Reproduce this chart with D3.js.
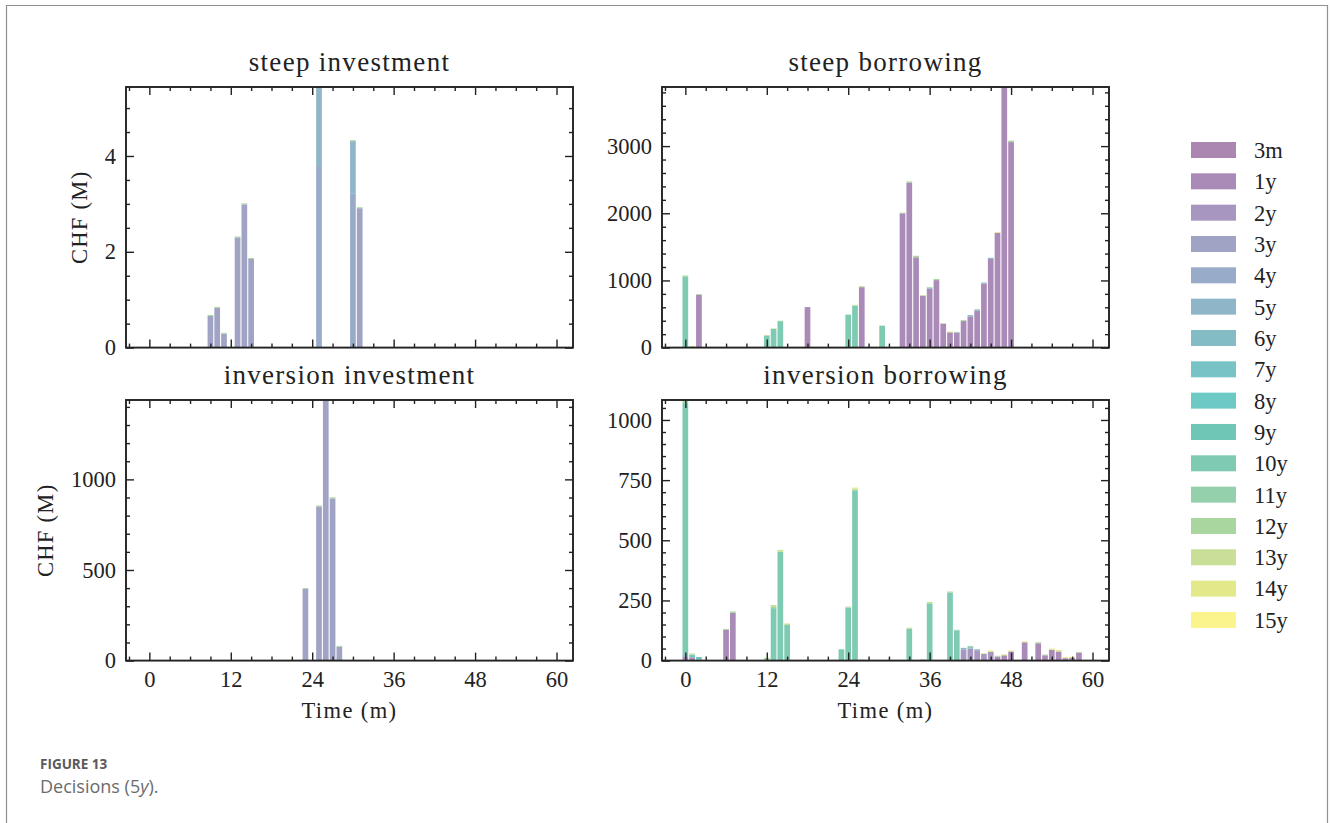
<!DOCTYPE html>
<html>
<head>
<meta charset="utf-8">
<script src="https://cdn.jsdelivr.net/npm/d3@7"></script>
<style>
  html, body { margin: 0; padding: 0; background: #fff; }
  svg { display: block; }
</style>
</head>
<body>
<svg id="chart" width="1330" height="823"></svg>
<script>
// ---------------- data ----------------
const tenors = ["3m","1y","2y","3y","4y","5y","6y","7y","8y","9y","10y","11y","12y","13y","14y","15y"];
const tenorColors = ["#ab86b0","#aa8bb8","#a796c0","#a0a3c4","#98abc8","#8fb6c8","#84bcc6","#78c3c6",
                     "#6dc9c4","#6fc6b6","#7ecab2","#94d0ac","#a9d69e","#c9df98","#e2e98b","#fbf38b"];

const xTickLabels = [0, 12, 24, 36, 48, 60];

// [month, tenor, value]
const steepInvestment = [
  [9,"3y",0.66],[9,"12y",0.02],
  [10,"3y",0.83],[10,"12y",0.02],
  [11,"3y",0.29],[11,"12y",0.02],
  [13,"3y",2.30],[13,"12y",0.02],
  [14,"3y",2.99],[14,"12y",0.02],
  [15,"3y",1.85],[15,"12y",0.02],
  [25,"4y",3.81],[25,"5y",1.63],
  [30,"4y",3.21],[30,"5y",1.10],[30,"12y",0.02],
  [31,"3y",2.91],[31,"12y",0.02]
];
const steepInvestmentTicks = [0, 2, 4];

const steepBorrowing = [
  [0,"10y",1062],[0,"13y",13],
  [1,"12y",20],
  [2,"1y",785],[2,"12y",12],
  [12,"10y",180],[12,"13y",8],
  [13,"10y",278],[13,"13y",8],
  [14,"10y",393],[14,"12y",7],
  [18,"1y",603],
  [24,"10y",490],[24,"14y",4],
  [25,"10y",625],[25,"13y",12],
  [26,"1y",900],[26,"13y",15],
  [29,"10y",322],[29,"12y",7],
  [32,"1y",2000],[32,"13y",10],
  [33,"1y",2452],[33,"12y",22],
  [34,"1y",1345],[34,"12y",22],
  [35,"1y",775],[35,"14y",8],
  [36,"1y",878],[36,"6y",15],[36,"12y",10],
  [37,"1y",1005],[37,"12y",17],
  [38,"1y",358],[38,"14y",6],
  [39,"1y",228],[39,"14y",11],
  [40,"1y",222],[40,"11y",12],
  [41,"1y",395],[41,"12y",14],
  [42,"1y",465],[42,"6y",19],
  [43,"1y",548],[43,"6y",21],
  [44,"1y",955],[44,"6y",13],
  [45,"1y",1320],[45,"6y",17],
  [46,"1y",1710],[46,"14y",11],
  [47,"1y",3880],
  [48,"1y",3060],[48,"12y",22]
];
const steepBorrowingTicks = [0, 1000, 2000, 3000];

const inversionInvestment = [
  [22,"3y",3],
  [23,"3y",395],[23,"12y",5],
  [25,"3y",850],[25,"12y",6],
  [26,"3y",1438],
  [27,"3y",895],[27,"12y",6],
  [28,"3y",76],[28,"12y",5]
];
const inversionInvestmentTicks = [0, 500, 1000];

const inversionBorrowing = [
  [0,"1y",15],[0,"6y",12],[0,"10y",1043],[0,"12y",13],
  [1,"1y",14],[1,"8y",10],[1,"13y",6],
  [2,"7y",5],[2,"9y",10],
  [6,"1y",128],[6,"12y",4],
  [7,"1y",198],[7,"12y",6],
  [12,"12y",12],
  [13,"10y",218],[13,"12y",8],[13,"13y",5],
  [14,"10y",452],[14,"13y",8],
  [15,"10y",148],[15,"13y",6],
  [16,"14y",3],
  [23,"10y",47],
  [24,"10y",220],[24,"12y",4],
  [25,"10y",708],[25,"13y",6],[25,"14y",5],
  [26,"12y",4],[27,"13y",3],[30,"14y",3],[31,"14y",3],[32,"14y",3],
  [33,"10y",132],[33,"13y",5],
  [35,"12y",5],
  [36,"10y",238],[36,"13y",6],
  [39,"10y",282],[39,"12y",5],
  [40,"10y",124],[40,"11y",4],
  [41,"2y",45],[41,"5y",8],
  [42,"2y",50],[42,"6y",6],[42,"12y",5],
  [43,"2y",40],[43,"5y",7],
  [44,"2y",28],[44,"14y",3],
  [45,"2y",36],[45,"14y",6],
  [46,"1y",16],[46,"12y",4],
  [47,"1y",22],[47,"14y",4],
  [48,"1y",38],[48,"14y",4],
  [50,"1y",76],[50,"14y",4],
  [52,"1y",72],[52,"12y",4],
  [53,"1y",22],[53,"12y",3],
  [54,"1y",45],[54,"14y",5],
  [55,"1y",38],[55,"14y",6],
  [56,"1y",10],[56,"14y",5],
  [57,"1y",12],[57,"14y",4],
  [58,"1y",33],[58,"12y",3]
];
const inversionBorrowingTicks = [0, 250, 500, 750, 1000];

const panelTitles = ["steep investment", "steep borrowing", "inversion investment", "inversion borrowing"];
const yLabel = "CHF (M)";
const xLabel = "Time (m)";
const captionHead = "FIGURE 13";

// ---------------- drawing ----------------
const svg = d3.select("#chart");
const SERIF = "'Liberation Serif', 'Times New Roman', serif";
const SANS = "'Open Sans', Lato, sans-serif";
const INK = "#222";

const color = d3.scaleOrdinal().domain(tenors).range(tenorColors);

// outer frame
svg.append("path")
  .attr("d", "M6.5,830 V5.5 H1327.5 V830")
  .attr("fill", "none").attr("stroke", "#8f8f8f").attr("stroke-width", 1.2);

const xDomain = [-3.44, 62.43];
const barW = 0.84;

const panels = [
  {data: steepInvestment, ticks: steepInvestmentTicks, minor: 0.5, x0: 126, y0: 87, title: panelTitles[0], yl: true, xl: false, ylx: 80},
  {data: steepBorrowing, ticks: steepBorrowingTicks, minor: 200, x0: 662, y0: 87, title: panelTitles[1], yl: false, xl: false},
  {data: inversionInvestment, ticks: inversionInvestmentTicks, minor: 100, x0: 126, y0: 400, title: panelTitles[2], yl: true, xl: true, ylx: 46},
  {data: inversionBorrowing, ticks: inversionBorrowingTicks, minor: 50, x0: 662, y0: 400, title: panelTitles[3], yl: false, xl: true}
];
const PW = 447, PH = 260.6;

function styleAxis(g, size) {
  g.attr("font-family", SERIF).attr("font-size", size);
  g.select(".domain").remove();
  g.selectAll("line").attr("stroke", INK).attr("stroke-width", 1.4);
  g.selectAll("text").attr("fill", INK);
}

panels.forEach((p, i) => {
  const g = svg.append("g").attr("transform", `translate(${p.x0},${p.y0})`);
  const x = d3.scaleLinear().domain(xDomain).range([0, PW]);

  // stack
  const byMonth = d3.group(p.data, d => d[0]);
  const segs = [];
  let maxTotal = 0;
  for (const [m, rows] of byMonth) {
    const sorted = rows.slice().sort((a, b) => tenors.indexOf(a[1]) - tenors.indexOf(b[1]));
    let acc = 0;
    sorted.forEach(r => { segs.push({m, t: r[1], y0: acc, y1: acc + r[2]}); acc += r[2]; });
    maxTotal = Math.max(maxTotal, acc);
  }
  const y = d3.scaleLinear().domain([0, maxTotal]).range([PH, 0]);

  const clipId = "clip" + i;
  g.append("clipPath").attr("id", clipId).append("rect").attr("width", PW).attr("height", PH);

  g.append("g").attr("clip-path", `url(#${clipId})`)
    .selectAll("rect").data(segs).join("rect")
    .attr("x", d => x(d.m - barW / 2))
    .attr("width", d => x(d.m + barW / 2) - x(d.m - barW / 2))
    .attr("y", d => y(d.y1))
    .attr("height", d => Math.max(0, y(d.y0) - y(d.y1)))
    .attr("fill", d => color(d.t));

  // minor tick positions
  const xMinor = d3.range(-3, 63, 3).filter(v => v % 12 !== 0 && v >= xDomain[0] && v <= xDomain[1]);
  const yMinor = d3.range(0, maxTotal + 1e-9, p.minor).filter(v => !p.ticks.some(t => Math.abs(t - v) < 1e-9));

  // bottom
  const gb = g.append("g").attr("transform", `translate(0,${PH})`)
    .call(d3.axisBottom(x).tickValues(xTickLabels).tickSize(-8).tickPadding(10)
      .tickFormat(p.xl ? d3.format("d") : () => ""));
  styleAxis(gb, 22.5);
  const gbm = g.append("g").attr("transform", `translate(0,${PH})`)
    .call(d3.axisBottom(x).tickValues(xMinor).tickSize(-4).tickFormat(() => ""));
  styleAxis(gbm, 10);
  // top
  styleAxis(g.append("g").call(d3.axisTop(x).tickValues(xTickLabels).tickSize(-8).tickFormat(() => "")), 10);
  styleAxis(g.append("g").call(d3.axisTop(x).tickValues(xMinor).tickSize(-4).tickFormat(() => "")), 10);
  // left
  const gl = g.append("g").call(d3.axisLeft(y).tickValues(p.ticks).tickSize(-8).tickPadding(10).tickFormat(d3.format("d")));
  styleAxis(gl, 22.5);
  styleAxis(g.append("g").call(d3.axisLeft(y).tickValues(yMinor).tickSize(-4).tickFormat(() => "")), 10);
  // right
  styleAxis(g.append("g").attr("transform", `translate(${PW},0)`)
    .call(d3.axisRight(y).tickValues(p.ticks).tickSize(-8).tickFormat(() => "")), 10);
  styleAxis(g.append("g").attr("transform", `translate(${PW},0)`)
    .call(d3.axisRight(y).tickValues(yMinor).tickSize(-4).tickFormat(() => "")), 10);

  // frame
  g.append("rect").attr("width", PW).attr("height", PH)
    .attr("fill", "none").attr("stroke", INK).attr("stroke-width", 1.9);

  // title
  g.append("text").attr("x", PW / 2).attr("y", -16.5)
    .attr("text-anchor", "middle").attr("font-family", SERIF).attr("font-size", 27)
    .attr("letter-spacing", 1.3).attr("fill", INK).text(p.title);

  if (p.yl) {
    g.append("text")
      .attr("transform", `translate(${p.ylx - p.x0 + 7},${PH / 2}) rotate(-90)`)
      .attr("text-anchor", "middle").attr("font-family", SERIF).attr("font-size", 22.5)
      .attr("letter-spacing", 1.3).attr("fill", INK).text(yLabel);
  }
  if (p.xl) {
    g.append("text").attr("x", PW / 2).attr("y", PH + 57.5)
      .attr("text-anchor", "middle").attr("font-family", SERIF).attr("font-size", 22.5)
      .attr("letter-spacing", 1.4).attr("fill", INK).text(xLabel);
  }
});

// legend
const leg = svg.append("g").attr("transform", "translate(1191,142)");
const legItems = leg.selectAll("g").data(tenors).join("g")
  .attr("transform", (d, i) => `translate(0,${i * 31.33})`);
legItems.append("rect").attr("width", 45).attr("height", 16).attr("fill", d => color(d));
legItems.append("text").attr("x", 63).attr("y", 8).attr("dy", "0.35em")
  .attr("font-family", SERIF).attr("font-size", 22.5).attr("fill", INK).text(d => d);

// caption
svg.append("text").attr("x", 40).attr("y", 768.7)
  .attr("font-family", SANS).attr("font-weight", 700)
  .attr("font-size", 13.5).attr("fill", "#5a5a5a").text(captionHead);
const cap = svg.append("text").attr("x", 40).attr("y", 793.3)
  .attr("font-family", SANS).attr("font-size", 18).attr("fill", "#6b6b6b");
cap.append("tspan").text("Decisions (5");
cap.append("tspan").attr("font-style", "italic").text("y");
cap.append("tspan").text(").");
</script>
</body>
</html>
